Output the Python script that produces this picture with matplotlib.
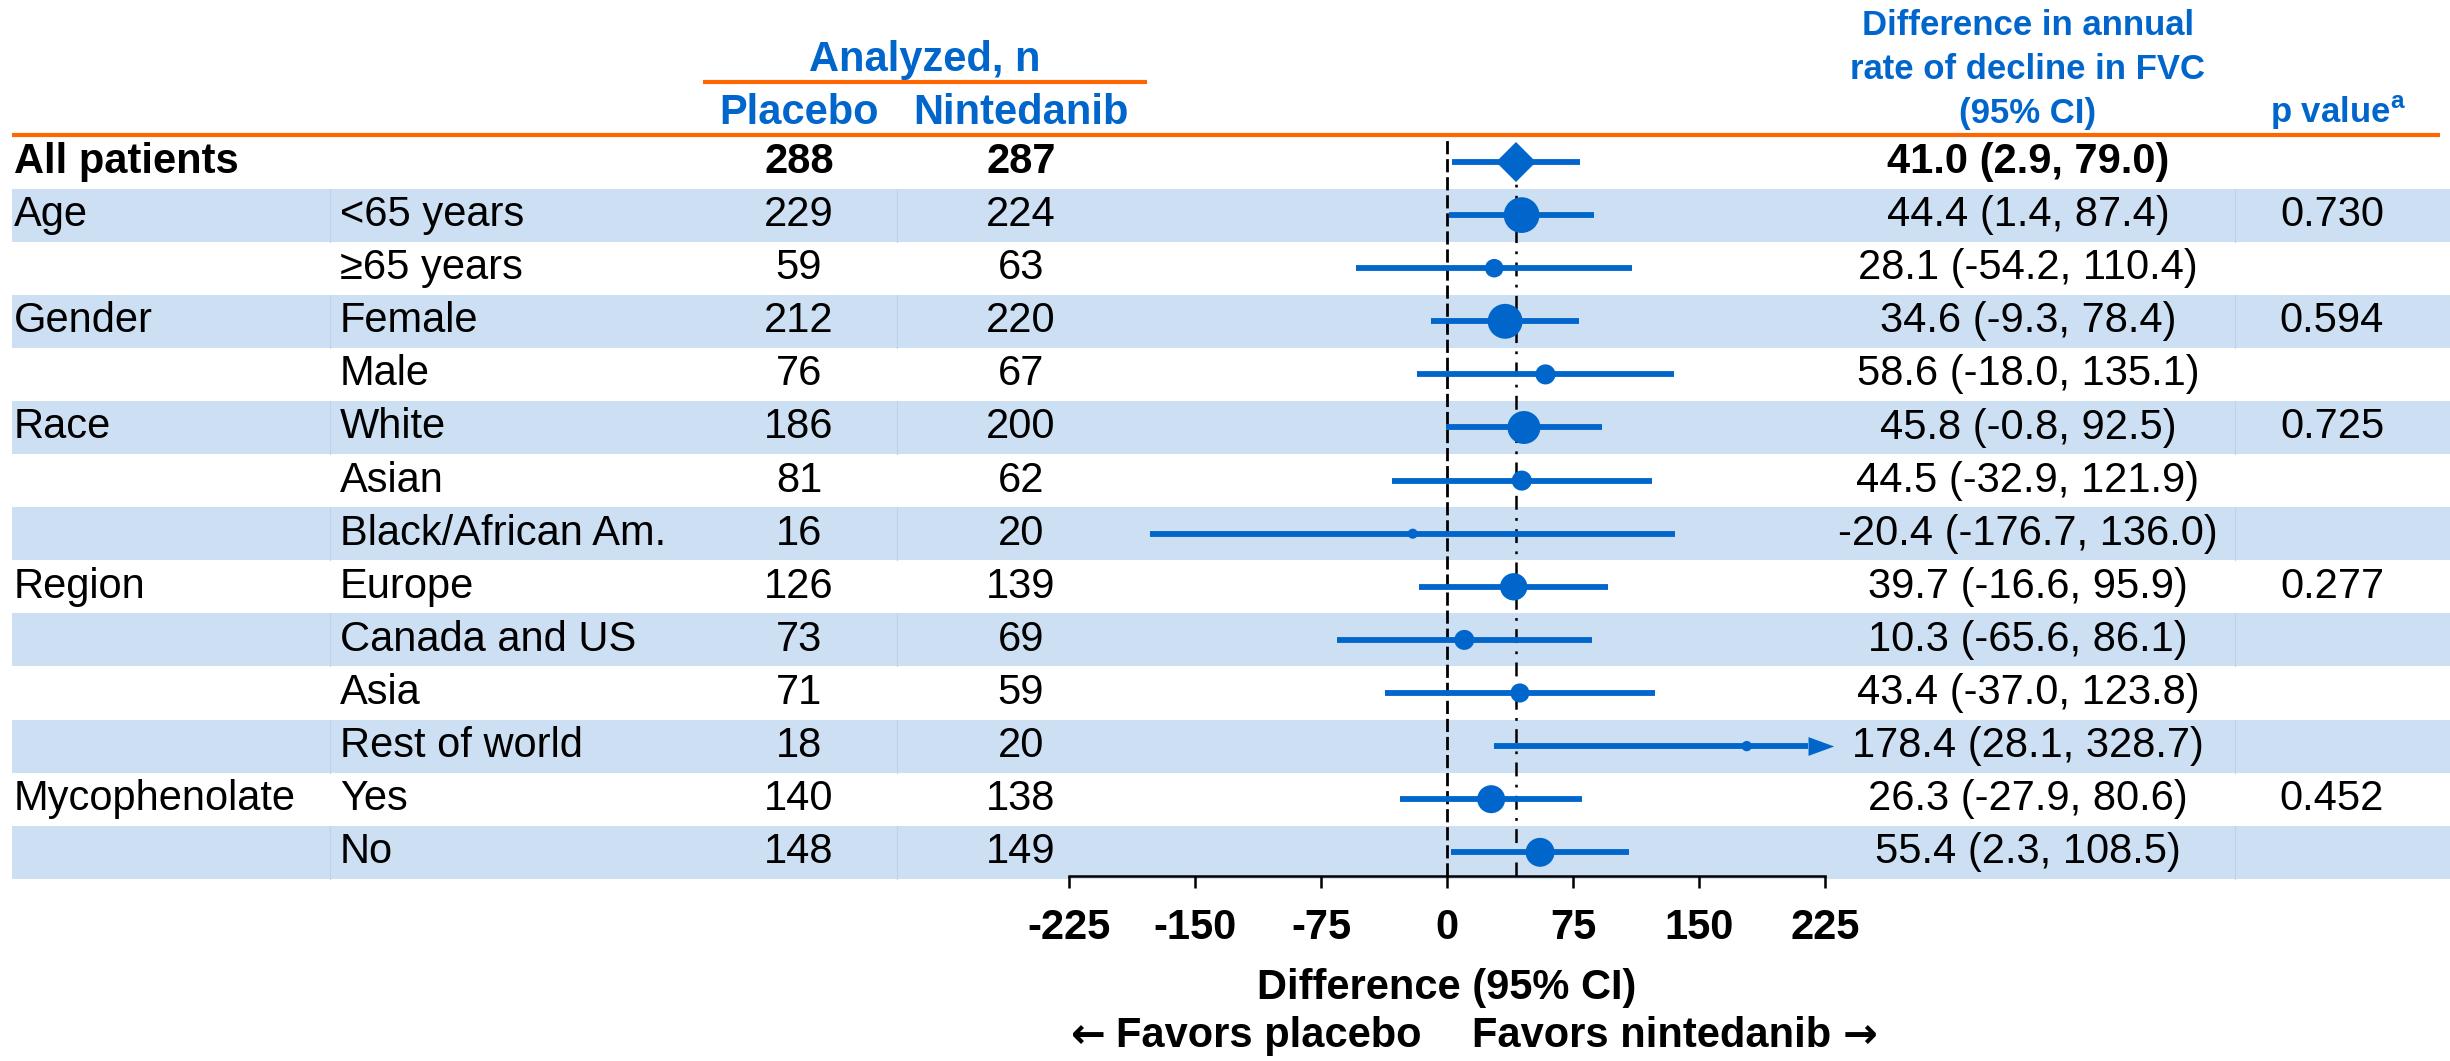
import matplotlib
matplotlib.use("Agg")
import matplotlib.pyplot as plt
from matplotlib.patches import Rectangle
from matplotlib.path import Path
import numpy as np

plt.rcParams['font.family'] = ['Liberation Sans', 'DejaVu Sans']
plt.rcParams['mathtext.fontset'] = 'custom'
plt.rcParams['mathtext.rm'] = 'Liberation Sans'
plt.rcParams['mathtext.bf'] = 'Liberation Sans:bold'
plt.rcParams['lines.scale_dashes'] = False

# ---- data -------------------------------------------------------------
groups = ["All patients", "Age", "", "Gender", "", "Race", "", "",
          "Region", "", "", "", "Mycophenolate", ""]
subgroups = ["", "<65 years", "\u226565 years", "Female", "Male", "White",
             "Asian", "Black/African Am.", "Europe", "Canada and US", "Asia",
             "Rest of world", "Yes", "No"]
placebo_n = [288, 229, 59, 212, 76, 186, 81, 16, 126, 73, 71, 18, 140, 148]
nintedanib_n = [287, 224, 63, 220, 67, 200, 62, 20, 139, 69, 59, 20, 138, 149]
estimate = [41.0, 44.4, 28.1, 34.6, 58.6, 45.8, 44.5, -20.4, 39.7, 10.3,
            43.4, 178.4, 26.3, 55.4]
ci_low = [2.9, 1.4, -54.2, -9.3, -18.0, -0.8, -32.9, -176.7, -16.6, -65.6,
          -37.0, 28.1, -27.9, 2.3]
ci_high = [79.0, 87.4, 110.4, 78.4, 135.1, 92.5, 121.9, 136.0, 95.9, 86.1,
           123.8, 328.7, 80.6, 108.5]
p_values = ["", "0.730", "", "0.594", "", "0.725", "", "", "0.277", "", "",
            "", "0.452", ""]
x_ticks = [-225, -150, -75, 0, 75, 150, 225]

# ---- style ------------------------------------------------------------
BLUE = "#0066CC"
BAND = "#CDE0F3"
DIVIDER = "#BBD3EC"
ORANGE = "#FF6600"
FS = 30
FS_HEAD_R = 25

W, H = 2450, 1061
fig = plt.figure(figsize=(W / 100, H / 100), dpi=100)

# layout canvas in pixel units for the table part
bg = fig.add_axes([0, 0, 1, 1])
bg.set_xlim(0, W)
bg.set_ylim(H, 0)
bg.axis("off")

ROW0, ROW_H = 162, 53.1
n_rows = len(subgroups)
row_y = [ROW0 + ROW_H * i for i in range(n_rows)]

X_GROUP, X_SUB, X_PLA, X_NIN, X_CI, X_P = 14, 340, 799, 1021, 2028, 2332

# alternating shaded rows with thin column dividers
for i, y in enumerate(row_y):
    if i % 2 == 1:
        bg.add_patch(Rectangle((12, y - ROW_H / 2), W - 12, ROW_H,
                               facecolor=BAND, lw=0, zorder=0))
        for xd in (330, 897, 2235):
            bg.plot([xd, xd], [y - ROW_H / 2, y + ROW_H / 2],
                    color=DIVIDER, lw=0.8, zorder=0.5)

# header
bg.text((703 + 1147) / 2, 71, "Analyzed, n", color=BLUE, fontsize=FS,
        fontweight="bold", ha="center", va="baseline")
bg.plot([703, 1147], [82, 82], color=ORANGE, lw=3, solid_capstyle="butt")
bg.text(X_PLA, 124, "Placebo", color=BLUE, fontsize=FS, fontweight="bold",
        ha="center", va="baseline")
bg.text(X_NIN, 124, "Nintedanib", color=BLUE, fontsize=FS, fontweight="bold",
        ha="center", va="baseline")
for txt, yb in zip(["Difference in annual", "rate of decline in FVC",
                    "(95% CI)"], [35, 79, 123]):
    bg.text(X_CI, yb, txt, color=BLUE, fontsize=FS_HEAD_R, fontweight="bold",
            ha="center", va="baseline")
bg.text(2338, 123, r"p value$^{\mathbf{a}}$", color=BLUE,
        fontsize=FS_HEAD_R, fontweight="bold", ha="center", va="baseline")
bg.plot([12, 2440], [135, 135], color=ORANGE, lw=3, solid_capstyle="butt")

# table body
for i, y in enumerate(row_y):
    wt = "bold" if i == 0 else "normal"
    if groups[i]:
        bg.text(X_GROUP, y, groups[i], fontsize=FS, fontweight=wt,
                ha="left", va="center")
    if subgroups[i]:
        bg.text(X_SUB, y, subgroups[i], fontsize=FS, fontweight=wt,
                ha="left", va="center")
    bg.text(X_PLA, y, str(placebo_n[i]), fontsize=FS, fontweight=wt,
            ha="center", va="center")
    bg.text(X_NIN, y, str(nintedanib_n[i]), fontsize=FS, fontweight=wt,
            ha="center", va="center")
    ci_txt = f"{estimate[i]:.1f} ({ci_low[i]:.1f}, {ci_high[i]:.1f})"
    bg.text(X_CI, y, ci_txt, fontsize=FS, fontweight=wt,
            ha="center", va="center")
    if p_values[i]:
        bg.text(X_P, y, p_values[i], fontsize=FS, ha="center", va="center")

# ---- forest panel -----------------------------------------------------
PX_PER_UNIT = 1.68
ZERO_PX = 1447
XMIN, XMAX = -250, 250
TOP_PX, AXIS_PX = 137, 876
ax = fig.add_axes([(ZERO_PX + XMIN * PX_PER_UNIT) / W, 1 - AXIS_PX / H,
                   (XMAX - XMIN) * PX_PER_UNIT / W, (AXIS_PX - TOP_PX) / H])
ax.set_xlim(XMIN, XMAX)
y_bottom = (AXIS_PX - ROW0) / ROW_H
ax.set_ylim(y_bottom, (TOP_PX - ROW0) / ROW_H)
ax.patch.set_visible(False)

rows = np.arange(n_rows)
ax.axvline(0, color="black", lw=2, linestyle=(0, (9.5, 3.5)), zorder=1)
ax.vlines(estimate[0], 0, y_bottom, color="black", lw=1.8,
          linestyle=(0, (10, 6, 2, 6)), zorder=1)

CLIP = 215  # intervals reaching past this are drawn with an arrow head
arrow_head = Path([(0, -0.73), (2, 0), (0, 0.73), (0, -0.73)],
                  [Path.MOVETO, Path.LINETO, Path.LINETO, Path.CLOSEPOLY])
for i in rows:
    hi = min(ci_high[i], CLIP)
    ax.hlines(i, ci_low[i], hi, color=BLUE, lw=4.2, zorder=2,
              capstyle="butt")
    if ci_high[i] > CLIP:
        ax.plot(CLIP, i, marker=arrow_head, ms=37, color=BLUE, mew=0,
                zorder=2)

totals = np.array(placebo_n) + np.array(nintedanib_n)
ax.scatter(estimate[1:], rows[1:], s=1.46 * totals[1:], color=BLUE,
           linewidths=0, zorder=3)
ax.plot(estimate[0], 0, marker="D", ms=20, color=BLUE, mew=0, zorder=3)

for side in ("top", "left", "right"):
    ax.spines[side].set_visible(False)
ax.spines["bottom"].set_bounds(x_ticks[0], x_ticks[-1])
ax.spines["bottom"].set_linewidth(1.8)
ax.set_yticks([])
ax.set_xticks(x_ticks)
ax.set_xticklabels([str(t) for t in x_ticks], fontsize=FS, fontweight="bold")
ax.tick_params(axis="x", direction="out", length=8.6, width=1.8, pad=14.5)

bg.text(ZERO_PX, 988, "Difference (95% CI)", fontsize=FS, fontweight="bold",
        ha="center", va="center")
left_txt = bg.text(ZERO_PX - 25, 1036, "Favors placebo", fontsize=FS,
                   fontweight="bold", ha="right", va="center")
right_txt = bg.text(ZERO_PX + 25, 1036, "Favors nintedanib", fontsize=FS,
                    fontweight="bold", ha="left", va="center")
bg.annotate("\u2190", xy=(0, 0.5), xycoords=left_txt, xytext=(-8, 0),
            textcoords="offset points", ha="right", va="center",
            fontsize=FS, fontweight="bold", family="DejaVu Sans")
bg.annotate("\u2192", xy=(1, 0.5), xycoords=right_txt, xytext=(8, 0),
            textcoords="offset points", ha="left", va="center",
            fontsize=FS, fontweight="bold", family="DejaVu Sans")

fig.savefig("out.png", dpi=100)
